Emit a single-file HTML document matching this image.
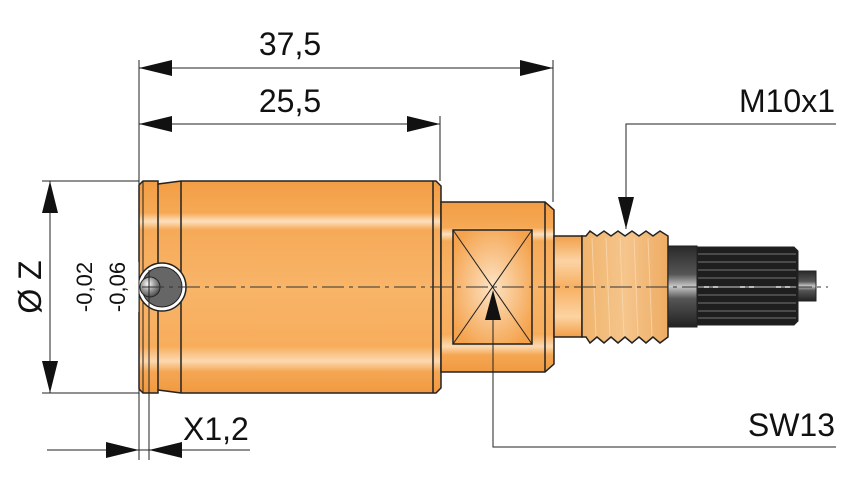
<!DOCTYPE html>
<html><head><meta charset="utf-8"><style>
html,body{margin:0;padding:0;background:#fff;}
svg{display:block;font-family:"Liberation Sans",sans-serif;}
</style></head><body>
<svg width="861" height="477" viewBox="0 0 861 477" xmlns="http://www.w3.org/2000/svg">
<defs>
<linearGradient id="og" x1="0" y1="0" x2="0" y2="1">
<stop offset="0" stop-color="#f29d45"/>
<stop offset="0.15" stop-color="#f6a955"/>
<stop offset="0.19" stop-color="#fde0bd"/>
<stop offset="0.23" stop-color="#f6aa58"/>
<stop offset="0.5" stop-color="#f8b468"/>
<stop offset="0.78" stop-color="#f7ad5c"/>
<stop offset="0.85" stop-color="#fcd9b0"/>
<stop offset="0.9" stop-color="#f5a652"/>
<stop offset="1" stop-color="#f09a42"/>
</linearGradient>
<linearGradient id="og2" x1="0" y1="0" x2="0" y2="1">
<stop offset="0" stop-color="#f3a04a"/>
<stop offset="0.25" stop-color="#fbd3a4"/>
<stop offset="0.5" stop-color="#f7b062"/>
<stop offset="0.8" stop-color="#fcd3a2"/>
<stop offset="1" stop-color="#f29e47"/>
</linearGradient>
<radialGradient id="sq" cx="0.5" cy="0.5" r="0.6">
<stop offset="0" stop-color="#fde3c4"/>
<stop offset="1" stop-color="#f4a24c"/>
</radialGradient>
<linearGradient id="th" x1="0" y1="0" x2="1" y2="0">
<stop offset="0" stop-color="#f0b36c"/>
<stop offset="0.5" stop-color="#f5c58c"/>
<stop offset="1" stop-color="#eeac63"/>
</linearGradient>
<linearGradient id="bk" x1="0" y1="0" x2="0" y2="1">
<stop offset="0" stop-color="#2a2a2a"/>
<stop offset="0.35" stop-color="#555"/>
<stop offset="0.5" stop-color="#c8c8c8"/>
<stop offset="0.65" stop-color="#555"/>
<stop offset="1" stop-color="#222"/>
</linearGradient>
<radialGradient id="ball" cx="0.4" cy="0.35" r="0.7">
<stop offset="0" stop-color="#fff"/>
<stop offset="0.5" stop-color="#999"/>
<stop offset="1" stop-color="#444"/>
</radialGradient>
</defs>

<g stroke="#222" stroke-width="1.5">
<path d="M143,181 L158,181 L158,184 L181,181 L436,181 L441,186 L441,388 L436,393 L181,393 L158,390 L158,393 L143,393 L139,389 L139,185 Z" fill="url(#og)"/>
<line x1="158" y1="184" x2="158" y2="390"/>
<line x1="181" y1="181" x2="181" y2="393"/>
<line x1="433" y1="181" x2="433" y2="393"/>
<line x1="143" y1="181" x2="143" y2="393" stroke-width="1"/>
<path d="M441,202 L545,202 L554,210 L554,364 L545,372 L441,372 Z" fill="url(#og)"/>
<line x1="545" y1="202" x2="545" y2="372"/>
<rect x="453" y="230" width="79" height="114" fill="url(#sq)"/>
<line x1="453" y1="230" x2="532" y2="344" stroke-width="1"/>
<line x1="532" y1="230" x2="453" y2="344" stroke-width="1"/>
<rect x="554" y="236" width="28" height="101" fill="url(#og2)"/>
<path d="M582,236 L586,236 L590,231 L597,236 L604,231 L611,236 L618,231 L625,236 L632,231 L639,236 L646,231 L653,236 L660,231 L668,236 L668,337 L660,343 L653,337 L646,343 L639,337 L632,343 L625,337 L618,343 L611,337 L604,343 L597,337 L590,343 L586,337 L582,337 Z" fill="url(#th)"/>
</g>
<g stroke="#f9dcb6" stroke-width="1" opacity="0.7">
<line x1="592" y1="238" x2="596" y2="336"/><line x1="606" y1="238" x2="610" y2="336"/><line x1="620" y1="238" x2="624" y2="336"/><line x1="634" y1="238" x2="638" y2="336"/><line x1="648" y1="238" x2="652" y2="336"/>
</g>
<rect x="668" y="246" width="29" height="81" fill="url(#bk)" stroke="#222"/>
<path d="M697,247 L794,247 L798,251 L798,321 L794,325 L697,325 Z" fill="#1e1e1e" stroke="#222"/>
<g stroke="#777" stroke-width="1">
<line x1="698" y1="254" x2="796" y2="254"/><line x1="698" y1="262" x2="796" y2="262"/><line x1="698" y1="270" x2="796" y2="270"/><line x1="698" y1="278" x2="796" y2="278"/><line x1="698" y1="295" x2="796" y2="295"/><line x1="698" y1="303" x2="796" y2="303"/><line x1="698" y1="311" x2="796" y2="311"/><line x1="698" y1="318" x2="796" y2="318"/>
</g>
<line x1="698" y1="287" x2="796" y2="287" stroke="#bbb" stroke-width="2"/>
<rect x="798" y="271" width="18" height="30" fill="url(#bk)" stroke="#222"/>

<circle cx="162" cy="287" r="24" fill="#fff" stroke="#222" stroke-width="1.5"/>
<circle cx="162" cy="287" r="20" fill="#666" stroke="#222"/>
<circle cx="150" cy="287" r="10" fill="url(#ball)" stroke="#222"/>
<rect x="132" y="262" width="7" height="50" fill="#fff"/>

<line x1="142" y1="287" x2="828" y2="287" stroke="#333" stroke-width="1" stroke-dasharray="22,5,4,5"/>

<g stroke="#222" stroke-width="1" fill="none">
<line x1="139" y1="60" x2="139" y2="460"/>
<line x1="149" y1="270" x2="149" y2="460"/>
<line x1="553" y1="60" x2="553" y2="202"/>
<line x1="440" y1="116" x2="440" y2="181"/>
<line x1="139" y1="68" x2="553" y2="68"/>
<line x1="139" y1="124" x2="440" y2="124"/>
<line x1="42" y1="181" x2="139" y2="181"/>
<line x1="42" y1="393" x2="139" y2="393"/>
<line x1="50" y1="181" x2="50" y2="393"/>
<line x1="47" y1="450" x2="250" y2="450"/>
<polyline points="626,229 626,124 836,124"/>
<polyline points="493,292 493,447 836,447"/>
</g>
<g fill="#111">
<polygon points="139,68 172,60 172,76"/>
<polygon points="553,68 520,60 520,76"/>
<polygon points="139,124 172,116 172,132"/>
<polygon points="440,124 407,116 407,132"/>
<polygon points="50,181 42,213 58,213"/>
<polygon points="50,393 42,361 58,361"/>
<polygon points="139,450 106,442 106,458"/>
<polygon points="149,450 182,442 182,458"/>
<polygon points="626,229 618,197 634,197"/>
<polygon points="493,290 485,320 501,320"/>
</g>

<g fill="#111" font-size="32">
<text x="290" y="55" text-anchor="middle">37,5</text>
<text x="290" y="112" text-anchor="middle">25,5</text>
<text x="835" y="112" text-anchor="end">M10x1</text>
<text x="835" y="436" text-anchor="end">SW13</text>
<text x="183" y="440">X1,2</text>
<text transform="translate(41,287) rotate(-90)" text-anchor="middle">Ø Z</text>
</g>
<g fill="#111" font-size="22">
<text transform="translate(92,287) rotate(-90)" text-anchor="middle">-0,02</text>
<text transform="translate(125,287) rotate(-90)" text-anchor="middle">-0,06</text>
</g>
</svg>
</body></html>
